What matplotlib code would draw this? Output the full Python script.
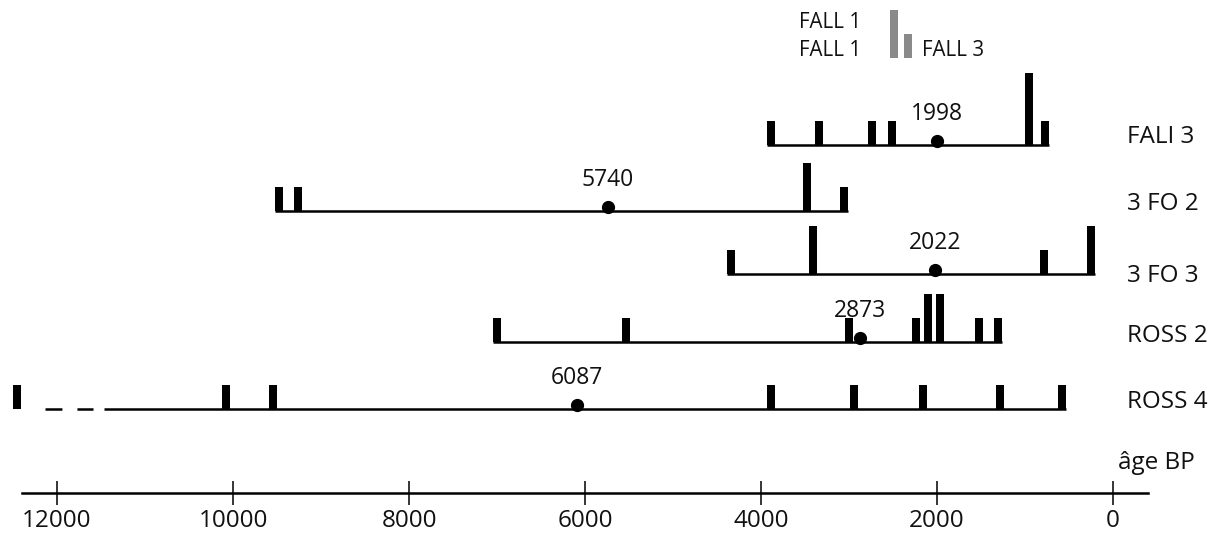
import matplotlib
matplotlib.use("Agg")
import matplotlib.pyplot as plt
import numpy as np

plt.rcParams['font.family'] = ['Open Sans', 'DejaVu Sans']
plt.rcParams['lines.scale_dashes'] = False

# ---------------- data ----------------
rows = ["FALI 3", "3 FO 2", "3 FO 3", "ROSS 2", "ROSS 4"]
fali3_ages = [3886, 3341, 2739, 2511, 955, 773]
fali3_counts = [1, 1, 1, 1, 3, 1]
fo2_ages = [9477, 9261, 3477, 3057]
fo2_counts = [1, 1, 2, 1]
fo3_ages = [4341, 3409, 784, 250]
fo3_counts = [1, 2, 1, 2]
ross2_ages = [7000, 5534, 3000, 2239, 2102, 1966, 1523, 1307]
ross2_counts = [1, 1, 1, 1, 2, 2, 1, 1]
ross4_ages = [12455, 10080, 9545, 3886, 2943, 2159, 1284, 580]
ross4_counts = [1, 1, 1, 1, 1, 1, 1, 1]
ross4_dashed_from = 12136
ross4_solid_from = 11466
means = [1998, 5740, 2022, 2873, 6087]
legend_labels = ["FALL 1", "FALL 1", "FALL 3"]
legend_ages = [2489, 2330]
legend_counts = [2, 1]
ticks = [12000, 10000, 8000, 6000, 4000, 2000, 0]
axis_label = "âge BP"

all_ages = [fali3_ages, fo2_ages, fo3_ages, ross2_ages, ross4_ages]
all_counts = [fali3_counts, fo2_counts, fo3_counts, ross2_counts, ross4_counts]

# ---------------- layout ----------------
W, H = 1221, 542
PX = 0.088            # pixels per year
X0 = 1113             # pixel of age 0
def px2age(p):
    return (X0 - p) / PX

baselines = [145, 211, 274, 342, 409]
label_y = [137, 204, 276, 336, 402]
unit = 24
bar_w = 8 / PX
lw = 1.8

fig = plt.figure(figsize=(W / 100, H / 100), dpi=100)
ax = fig.add_axes([0, 0, 1, 1])
ax.set_xlim(px2age(0), px2age(W))
ax.set_ylim(H, 0)
ax.axis('off')

for i, (ages, counts) in enumerate(zip(all_ages, all_counts)):
    yb = baselines[i]
    ages = np.array(ages, float)
    counts = np.array(counts, float)
    ax.bar(ages, -counts * unit, bottom=yb, width=bar_w, color='black',
           align='center', linewidth=0)
    left = ages.max() + bar_w / 2
    right = ages.min() - bar_w / 2
    if rows[i] == "ROSS 4":
        ax.plot([ross4_solid_from, right], [yb, yb], color='black', lw=lw,
                solid_capstyle='butt')
        ax.plot([ross4_dashed_from, ross4_solid_from + 11 / PX], [yb, yb],
                color='black', lw=lw, linestyle=(0, (12.2, 10.8)),
                dash_capstyle='butt')
    else:
        ax.plot([left, right], [yb, yb], color='black', lw=lw,
                solid_capstyle='butt')
    # mean dot
    ax.plot([means[i]], [yb - 4], marker='o', ms=8.5, color='black',
            linestyle='none')
    ax.text(means[i], yb - 31, str(means[i]), ha='center', va='center',
            fontsize=16.5, color='#111111')
    ax.text(px2age(1127), label_y[i], rows[i], ha='left', va='center',
            fontsize=17.5, color='#111111')

# legend (gray bars)
ax.bar(legend_ages, -np.array(legend_counts, float) * unit, bottom=58,
       width=bar_w, color='#8a8a8a', linewidth=0)
ax.text(px2age(799), 23, legend_labels[0], ha='left', va='center',
        fontsize=14.8, color='#111111')
ax.text(px2age(799), 50, legend_labels[1], ha='left', va='center',
        fontsize=14.8, color='#111111')
ax.text(px2age(922), 50, legend_labels[2], ha='left', va='center',
        fontsize=14.8, color='#111111')

ax.text(px2age(1118), 463, axis_label, ha='left', va='center',
        fontsize=17.5, color='#111111')

# age axis
ax_left, ax_right = 22, 1148
axis_y = 493
sa = fig.add_axes([ax_left / W, 1 - axis_y / H, (ax_right - ax_left) / W, 0.02])
sa.set_xlim(px2age(ax_left), px2age(ax_right))
sa.set_ylim(0, 1)
for s in ['top', 'left', 'right']:
    sa.spines[s].set_visible(False)
sa.spines['bottom'].set_linewidth(1.8)
sa.patch.set_alpha(0)
sa.set_yticks([])
sa.set_xticks(ticks)
sa.set_xticklabels([str(t) for t in ticks], fontsize=17.5, color='#111111')
sa.tick_params(axis='x', direction='inout', length=17, width=1.1, pad=3)

fig.savefig("out.png", dpi=100)
